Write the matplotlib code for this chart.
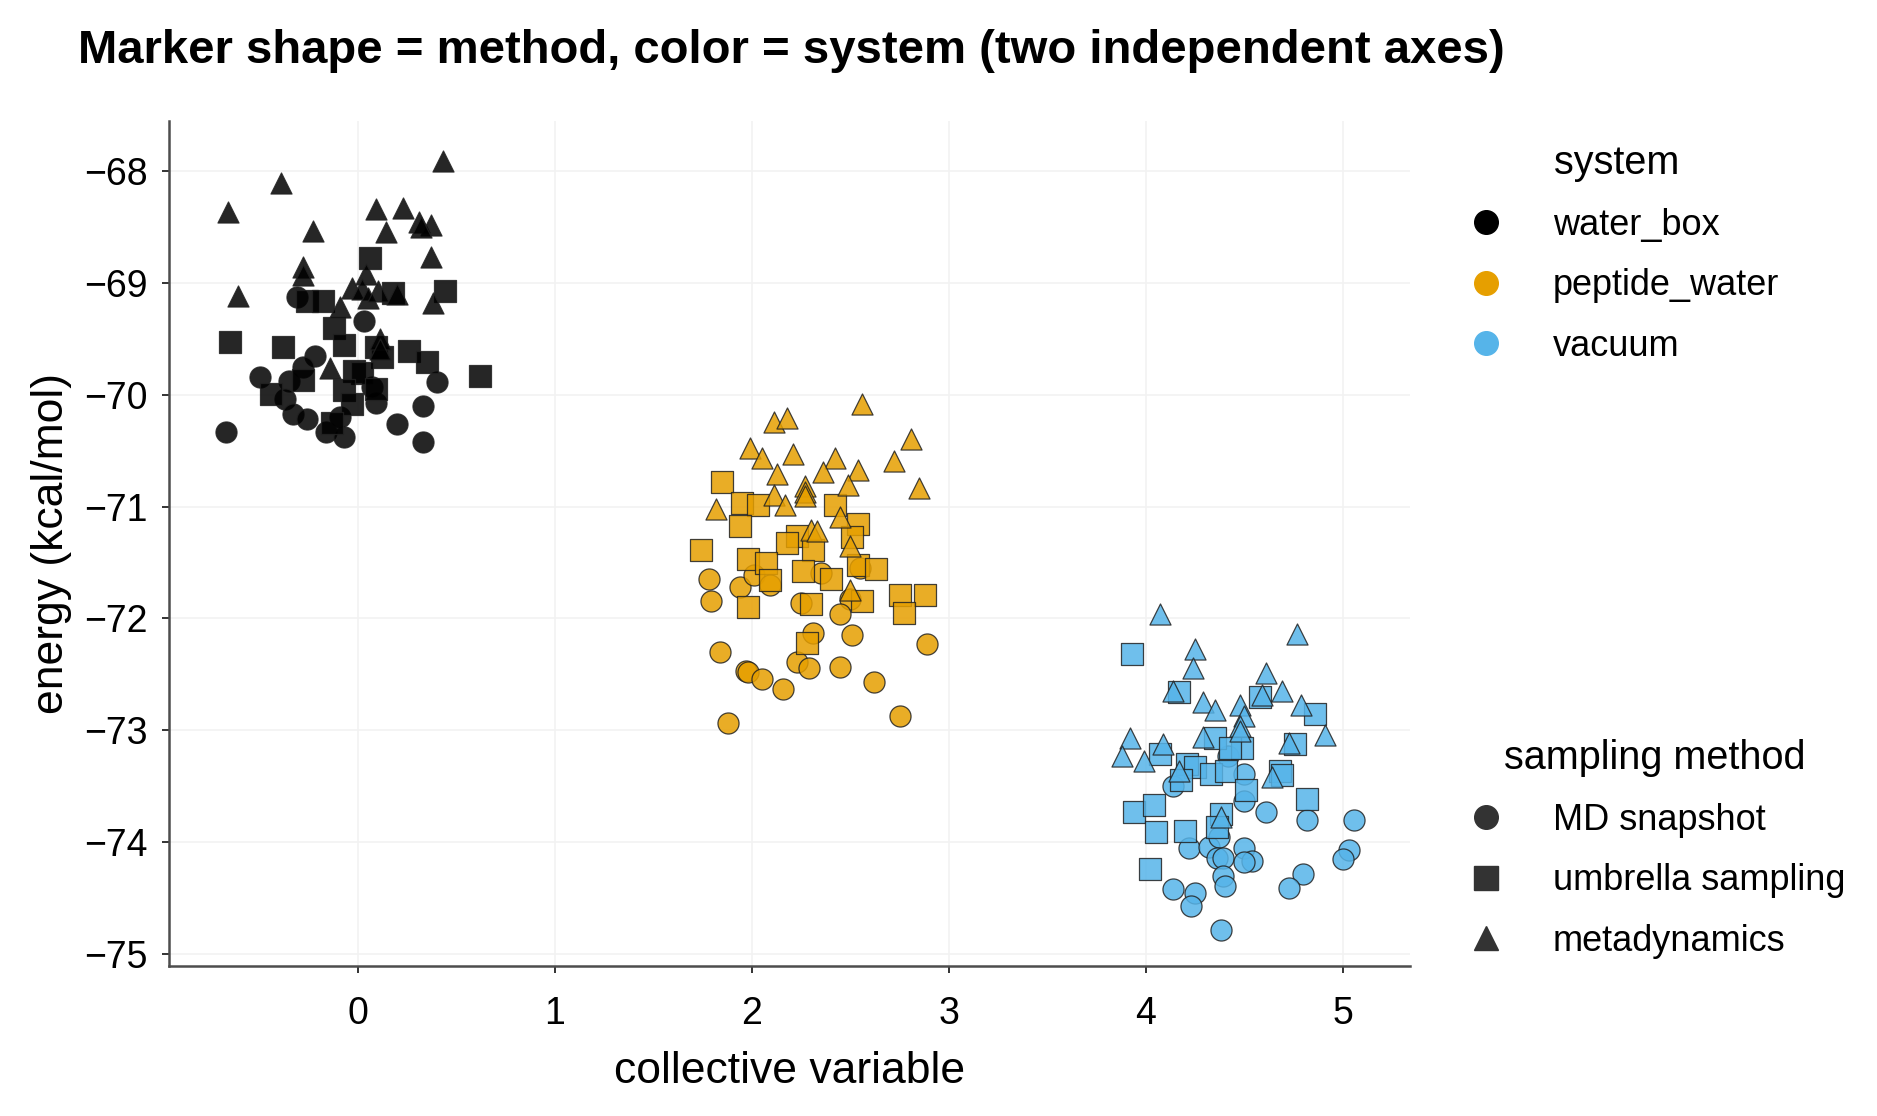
import matplotlib
matplotlib.use('Agg')
import matplotlib.pyplot as plt
from matplotlib.lines import Line2D

plt.rcParams['font.family'] = ['Liberation Sans', 'DejaVu Sans']

systems = ['water_box', 'peptide_water', 'vacuum']
system_colors = ['#000000', '#E69F00', '#56B4E9']
methods = ['MD snapshot', 'umbrella sampling', 'metadynamics']
method_markers = ['o', 's', '^']

# water_box
water_md_x = [-0.31, 0.03, -0.22, -0.28, -0.50, -0.35, -0.37, -0.33, -0.26, -0.67,
              -0.16, -0.07, -0.09, 0.09, 0.40, 0.33, 0.20, 0.33, 0.07]
water_md_y = [-69.13, -69.34, -69.65, -69.75, -69.84, -69.88, -70.04, -70.17, -70.22, -70.33,
              -70.33, -70.38, -70.20, -70.07, -69.89, -70.10, -70.26, -70.42, -69.93]
water_us_x = [0.06, 0.44, -0.65, -0.38, -0.26, -0.18, -0.12, -0.07, 0.18, 0.09, 0.12,
              0.26, 0.35, 0.62, -0.44, -0.28, -0.02, 0.02, -0.07, -0.03, 0.09, -0.13]
water_us_y = [-68.78, -69.07, -69.53, -69.57, -69.16, -69.16, -69.40, -69.56, -69.09, -69.57, -69.66,
              -69.61, -69.71, -69.83, -69.99, -69.87, -69.79, -69.81, -69.96, -70.08, -69.95, -70.25]
water_meta_x = [0.43, -0.39, -0.66, -0.23, 0.09, 0.23, 0.31, 0.37, 0.32, 0.14, 0.37, -0.28, -0.28,
                -0.61, 0.04, -0.03, 0.02, 0.05, 0.10, 0.20, 0.38, -0.09, 0.11, 0.11, -0.14]
water_meta_y = [-67.91, -68.11, -68.37, -68.54, -68.34, -68.33, -68.46, -68.48, -68.50, -68.55, -68.77,
                -68.86, -68.93, -69.12, -68.92, -69.05, -69.06, -69.14, -69.07, -69.10, -69.18, -69.22,
                -69.50, -69.59, -69.76]

# peptide_water
peptide_md_x = [1.78, 1.79, 1.94, 2.01, 2.09, 2.35, 2.55, 2.25, 2.50, 2.45, 2.31, 2.51,
                2.89, 1.84, 1.97, 1.98, 2.05, 2.16, 2.23, 2.29, 2.45, 2.62, 1.88, 2.75]
peptide_md_y = [-71.65, -71.84, -71.72, -71.61, -71.70, -71.59, -71.55, -71.86, -71.83, -71.96, -72.13, -72.15,
                -72.23, -72.30, -72.47, -72.48, -72.54, -72.63, -72.39, -72.44, -72.43, -72.57, -72.93, -72.87]
peptide_us_x = [1.85, 1.95, 2.03, 1.94, 2.42, 2.54, 2.51, 1.74, 2.23, 2.18, 2.31, 1.98, 2.07,
                2.09, 2.26, 2.54, 2.63, 2.40, 1.98, 2.30, 2.56, 2.75, 2.88, 2.77, 2.28]
peptide_us_y = [-70.78, -70.97, -70.99, -71.17, -70.99, -71.16, -71.27, -71.39, -71.26, -71.33, -71.39, -71.47, -71.50,
                -71.66, -71.58, -71.52, -71.56, -71.65, -71.90, -71.87, -71.84, -71.79, -71.79, -71.95, -72.22]
peptide_meta_x = [2.56, 2.11, 2.18, 2.81, 1.99, 2.05, 2.21, 2.42, 2.72, 2.36, 2.54, 2.13, 2.49,
                  2.85, 2.27, 2.27, 2.27, 2.11, 2.17, 1.82, 2.45, 2.30, 2.33, 2.50, 2.50]
peptide_meta_y = [-70.08, -70.24, -70.21, -70.40, -70.48, -70.57, -70.53, -70.57, -70.59, -70.69, -70.67, -70.71, -70.81,
                  -70.83, -70.82, -70.87, -70.91, -70.90, -70.99, -71.02, -71.09, -71.21, -71.22, -71.35, -71.75]

# vacuum
vacuum_md_x = [4.14, 4.50, 4.50, 4.61, 4.82, 5.06, 4.22, 4.32, 4.37, 4.36, 4.39, 4.50, 4.54,
               4.50, 5.03, 5.00, 4.39, 4.40, 4.80, 4.73, 4.14, 4.25, 4.23, 4.38, 4.42]
vacuum_md_y = [-73.50, -73.39, -73.63, -73.73, -73.80, -73.80, -74.05, -74.04, -73.95, -74.14, -74.14, -74.05, -74.17,
               -74.18, -74.07, -74.15, -74.30, -74.39, -74.28, -74.41, -74.42, -74.45, -74.57, -74.78, -73.23]
vacuum_us_x = [3.93, 4.17, 4.58, 4.86, 4.35, 4.49, 4.76, 4.43, 4.07, 4.21, 4.25, 4.33, 4.41,
               4.68, 4.69, 4.18, 4.51, 4.82, 3.94, 4.04, 4.38, 4.36, 4.05, 4.20, 4.02]
vacuum_us_y = [-72.32, -72.66, -72.70, -72.85, -73.07, -73.16, -73.12, -73.16, -73.21, -73.30, -73.33, -73.39, -73.36,
               -73.36, -73.40, -73.44, -73.53, -73.61, -73.73, -73.67, -73.75, -73.86, -73.91, -73.90, -74.24]
vacuum_meta_x = [4.07, 4.77, 4.25, 4.24, 4.61, 4.69, 4.59, 4.14, 4.29, 4.35, 4.48, 4.79, 4.50,
                 4.48, 4.48, 4.91, 3.92, 4.09, 4.29, 4.73, 3.88, 3.99, 4.17, 4.64, 4.38]
vacuum_meta_y = [-71.96, -72.14, -72.27, -72.44, -72.49, -72.65, -72.68, -72.65, -72.75, -72.82, -72.77, -72.77, -72.87,
                 -72.96, -73.01, -73.04, -73.07, -73.12, -73.06, -73.11, -73.23, -73.27, -73.36, -73.42, -73.77]

data = {
    'water_box': [(water_md_x, water_md_y), (water_us_x, water_us_y), (water_meta_x, water_meta_y)],
    'peptide_water': [(peptide_md_x, peptide_md_y), (peptide_us_x, peptide_us_y), (peptide_meta_x, peptide_meta_y)],
    'vacuum': [(vacuum_md_x, vacuum_md_y), (vacuum_us_x, vacuum_us_y), (vacuum_meta_x, vacuum_meta_y)],
}

fig = plt.figure(figsize=(18.77, 11.16), dpi=100)
ax = fig.add_axes([0.090, 0.134, 0.661, 0.758])

for sysname, color in zip(systems, system_colors):
    for (xs, ys), mk in zip(data[sysname], method_markers):
        ax.scatter(xs, ys, s=230, marker=mk, facecolor=color, edgecolor='#222222',
                   linewidth=0.9, alpha=0.85, zorder=3)

ax.set_xlim(-0.96, 5.34)
ax.set_ylim(-75.11, -67.55)
ax.set_xticks([0, 1, 2, 3, 4, 5])
ax.set_yticks([-68, -69, -70, -71, -72, -73, -74, -75])
ax.grid(True, color='#f2f2f2', linewidth=1.2, zorder=0)
ax.set_axisbelow(True)
for side in ['top', 'right']:
    ax.spines[side].set_visible(False)
for side in ['left', 'bottom']:
    ax.spines[side].set_color('#4d4d4d')
    ax.spines[side].set_linewidth(1.8)
ax.tick_params(labelsize=27, color='#333333', length=5, width=1.4)
ax.tick_params(axis='x', pad=16)
ax.tick_params(axis='y', pad=10)
ax.set_xlabel('collective variable', fontsize=32, va='center')
ax.xaxis.set_label_coords(0.5, -0.124)
ax.set_ylabel('energy (kcal/mol)', fontsize=32, va='center')
ax.yaxis.set_label_coords(-0.095, 0.5)

fig.text(0.0416, 0.954, 'Marker shape = method, color = system (two independent axes)',
         fontsize=34, fontweight='bold', ha='left', va='center')

sys_handles = [Line2D([], [], linestyle='none', marker='o', markersize=17,
                      markerfacecolor=c, markeredgecolor=c) for c in system_colors]
leg1 = fig.legend(sys_handles, systems, title='system ', loc='upper left',
                  bbox_to_anchor=(0.763, 0.900), frameon=False, fontsize=26,
                  title_fontsize=28.5, labelspacing=0.71, handletextpad=1.24,
                  handlelength=1.2)

meth_handles = [Line2D([], [], linestyle='none', marker=m, markersize=17,
                       markerfacecolor='#333333', markeredgecolor='#333333') for m in method_markers]
leg2 = fig.legend(meth_handles, methods, title='sampling method', loc='upper left',
                  bbox_to_anchor=(0.763, 0.367), frameon=False, fontsize=26,
                  title_fontsize=28.5, labelspacing=0.71, handletextpad=1.24,
                  handlelength=1.2)

fig.savefig('out.png', dpi=100)
